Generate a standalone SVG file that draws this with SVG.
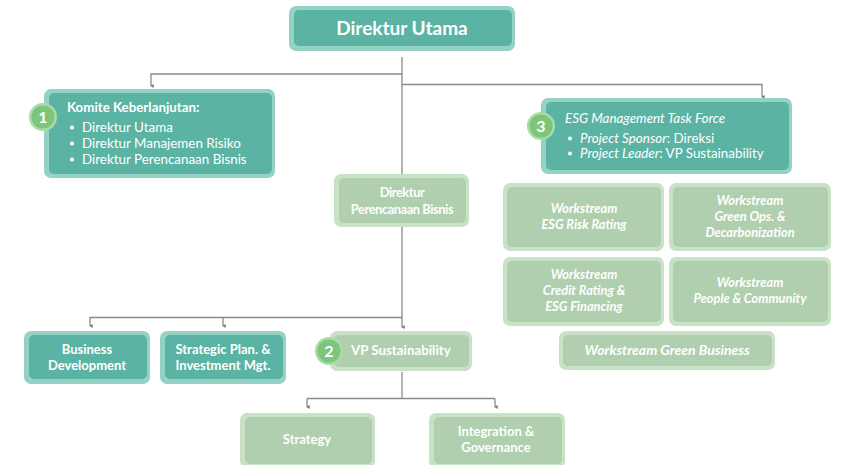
<svg xmlns="http://www.w3.org/2000/svg" width="864" height="465" viewBox="0 0 864 465">
<defs>
<style>
.to{fill:#93d2c4}
.ti{fill:#5bb3a3}
.go{fill:#c8e1c7}
.gi{fill:#afcfae}
.t{font-family:Lato,"Open Sans","Liberation Sans",sans-serif;fill:#fff}
.b{font-weight:bold}
.i{font-style:italic}
.c{text-anchor:middle}
.ln{fill:none;stroke:#8a8a8a;stroke-width:1.3}
.bo{fill:#a9dca5}
.bi{fill:#7cc57a}
</style>
<marker id="ah" viewBox="0 0 6 6" refX="3" refY="5" markerWidth="4" markerHeight="4" orient="auto-start-reverse" markerUnits="userSpaceOnUse">
<path d="M0,1 L6,1 L3,6 Z" fill="#777"/>
</marker>
</defs>
<rect width="864" height="465" fill="#fff"/>
<g id="connectors">
<path class="ln" d="M402,57 V174"/>
<path class="ln" d="M402,74 H151 V86" marker-end="url(#ah)"/>
<path class="ln" d="M402,84.5 H762 V97" marker-end="url(#ah)"/>
<path class="ln" d="M402,227 V318"/>
<path class="ln" d="M402,317.5 H90 V326" marker-end="url(#ah)"/>
<path class="ln" d="M223,317.5 V326" marker-end="url(#ah)"/>
<path class="ln" d="M402,317.5 V327" marker-end="url(#ah)"/>
<path class="ln" d="M402,372 V398.5"/>
<path class="ln" d="M307,398.5 H495"/>
<path class="ln" d="M307,398.5 V407" marker-end="url(#ah)"/>
<path class="ln" d="M495,398.5 V407" marker-end="url(#ah)"/>
</g>
<g id="direktur-utama">
<rect class="to" x="289" y="6" width="226" height="45" rx="7"/>
<rect class="ti" x="294" y="10" width="218" height="36" rx="5"/>
<text class="t b c" x="402" y="35" font-size="19">Direktur Utama</text>
</g>
<g id="komite">
<rect class="to" x="44" y="89" width="231" height="89" rx="7"/>
<rect class="ti" x="49" y="93" width="223" height="81" rx="5"/>
<text class="t b" x="67" y="112" font-size="13.3">Komite Keberlanjutan:</text>
<g class="t" font-size="13.4">
<circle cx="72" cy="127.5" r="2" fill="#fff"/><text x="82" y="132">Direktur Utama</text>
<circle cx="72" cy="143.5" r="2" fill="#fff"/><text x="82" y="148">Direktur Manajemen Risiko</text>
<circle cx="72" cy="159.5" r="2" fill="#fff"/><text x="82" y="164">Direktur Perencanaan Bisnis</text>
</g>
<circle class="bo" cx="43" cy="117" r="14"/>
<circle class="bi" cx="43" cy="117" r="11.5"/>
<text class="t b c" x="43" y="123" font-size="16">1</text>
</g>
<g id="esg-task-force">
<rect class="to" x="541" y="98" width="251" height="76" rx="7"/>
<rect class="ti" x="546" y="102" width="243" height="68" rx="5"/>
<text class="t i" x="565" y="123" font-size="13.4">ESG Management Task Force</text>
<g class="t" font-size="13.4">
<circle cx="570" cy="138.5" r="2" fill="#fff"/><text x="580" y="143"><tspan class="i">Project Sponsor</tspan>: Direksi</text>
<circle cx="570" cy="153.5" r="2" fill="#fff"/><text x="580" y="158"><tspan class="i">Project Leader</tspan>: VP Sustainability</text>
</g>
<circle class="bo" cx="541" cy="126" r="14"/>
<circle class="bi" cx="541" cy="126" r="11.5"/>
<text class="t b c" x="541" y="132" font-size="16">3</text>
</g>
<g id="direktur-perencanaan">
<rect class="go" x="334" y="174" width="135" height="53" rx="7"/>
<rect class="gi" x="339" y="178" width="127" height="45" rx="5"/>
<text class="t b c" font-size="12.8" letter-spacing="-0.4"><tspan x="402" y="197">Direktur</tspan><tspan x="402" y="214">Perencanaan Bisnis</tspan></text>
</g>
<g id="ws-risk">
<rect class="go" x="503" y="183" width="161" height="68" rx="7"/>
<rect class="gi" x="507" y="187" width="154" height="60" rx="5"/>
<text class="t b i c" font-size="12.8"><tspan x="584" y="213">Workstream</tspan><tspan x="584" y="229">ESG Risk Rating</tspan></text>
</g>
<g id="ws-greenops">
<rect class="go" x="669" y="183" width="162" height="68" rx="7"/>
<rect class="gi" x="673" y="187" width="155" height="60" rx="5"/>
<text class="t b i c" font-size="12.8"><tspan x="750" y="205">Workstream</tspan><tspan x="750" y="221">Green Ops. &amp;</tspan><tspan x="750" y="237">Decarbonization</tspan></text>
</g>
<g id="ws-credit">
<rect class="go" x="503" y="257" width="161" height="69" rx="7"/>
<rect class="gi" x="507" y="261" width="154" height="61" rx="5"/>
<text class="t b i c" font-size="12.8"><tspan x="584" y="279">Workstream</tspan><tspan x="584" y="295">Credit Rating &amp;</tspan><tspan x="584" y="311">ESG Financing</tspan></text>
</g>
<g id="ws-people">
<rect class="go" x="669" y="257" width="162" height="69" rx="7"/>
<rect class="gi" x="673" y="261" width="155" height="61" rx="5"/>
<text class="t b i c" font-size="12.8"><tspan x="750" y="287">Workstream</tspan><tspan x="750" y="303">People &amp; Community</tspan></text>
</g>
<g id="ws-greenbusiness">
<rect class="go" x="559" y="331" width="216" height="39" rx="7"/>
<rect class="gi" x="563" y="335" width="209" height="31" rx="5"/>
<text class="t b i c" x="667" y="355" font-size="14">Workstream Green Business</text>
</g>
<g id="business-development">
<rect class="to" x="24" y="331" width="126" height="53" rx="7"/>
<rect class="ti" x="29" y="335" width="118" height="44" rx="5"/>
<text class="t b c" font-size="13"><tspan x="87" y="354">Business</tspan><tspan x="87" y="370">Development</tspan></text>
</g>
<g id="strategic-plan">
<rect class="to" x="160" y="331" width="126" height="53" rx="7"/>
<rect class="ti" x="165" y="335" width="118" height="44" rx="5"/>
<text class="t b c" font-size="13"><tspan x="223" y="354">Strategic Plan. &amp;</tspan><tspan x="223" y="370">Investment Mgt.</tspan></text>
</g>
<g id="vp-sustainability">
<rect class="go" x="330" y="331" width="142" height="40" rx="7"/>
<rect class="gi" x="334" y="335" width="135" height="32" rx="5"/>
<text class="t b" x="351" y="355" font-size="13.3">VP Sustainability</text>
<circle class="bo" cx="329" cy="351" r="14"/>
<circle class="bi" cx="329" cy="351" r="11.5"/>
<text class="t b c" x="329" y="357" font-size="16">2</text>
</g>
<g id="strategy">
<rect class="go" x="240" y="413" width="135" height="55" rx="7"/>
<rect class="gi" x="245" y="417" width="127" height="47" rx="5"/>
<text class="t b c" x="307" y="444" font-size="13">Strategy</text>
</g>
<g id="integration">
<rect class="go" x="429" y="413" width="136" height="55" rx="7"/>
<rect class="gi" x="434" y="417" width="128" height="47" rx="5"/>
<text class="t b c" font-size="13"><tspan x="496" y="436">Integration &amp;</tspan><tspan x="496" y="452">Governance</tspan></text>
</g>
</svg>
